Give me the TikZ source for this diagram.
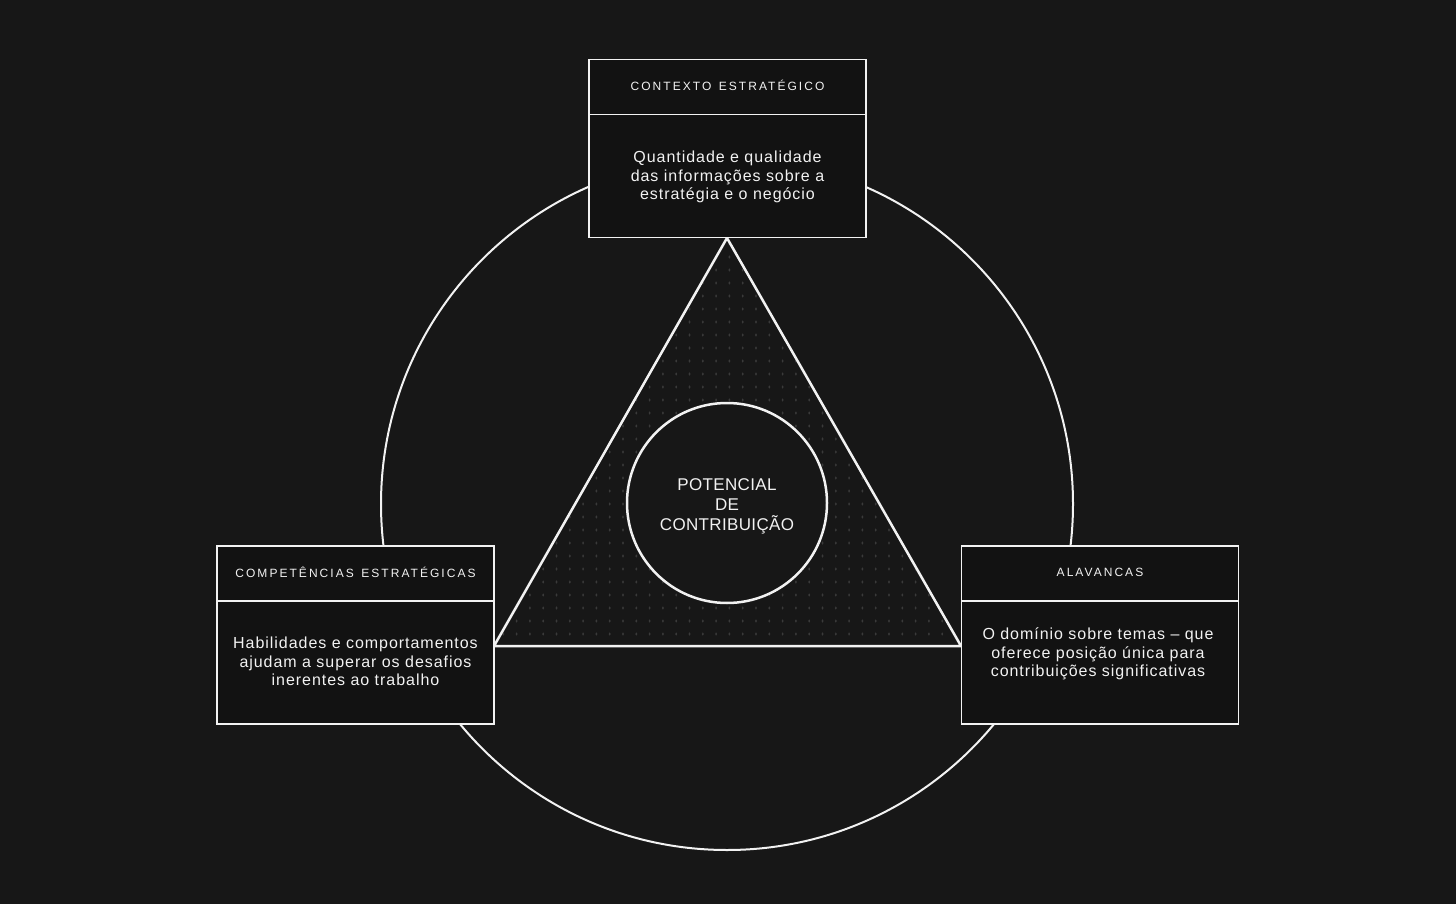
\documentclass[tikz,border=0pt]{standalone}
\usepackage{fontspec}
\setmainfont{Liberation Sans}
\newfontfamily\hdrfont[LetterSpace=17,WordSpace=1.4]{Liberation Sans}
\definecolor{bgc}{HTML}{171717}
\definecolor{boxc}{HTML}{121212}
\definecolor{linec}{HTML}{F2F2F2}
\definecolor{dotc}{HTML}{3A3A3A}
\begin{document}
\begin{tikzpicture}[x=1pt,y=-1pt,
  hdrbox/.style={draw=linec,fill=boxc,line width=1.5pt,minimum width=277pt,minimum height=55pt,inner sep=0pt},
  bodybox/.style={draw=linec,fill=boxc,line width=1.5pt,minimum width=277pt,minimum height=123pt,inner sep=0pt},
  hdrtxt/.style={text=linec,font=\hdrfont\fontsize{12}{14}\selectfont,inner sep=0pt},
  bodytxt/.style={text=linec,align=center,font=\fontsize{16}{18.5}\selectfont\addfontfeature{LetterSpace=6},inner sep=0pt},
  ctrtxt/.style={text=linec,align=center,font=\fontsize{17}{20}\selectfont\addfontfeature{LetterSpace=2},inner sep=0pt}]
\fill[bgc] (0,0) rectangle (1456,904);
\useasboundingbox (0,0) rectangle (1456,904);
% outer circle
\node[draw=linec,line width=2pt,circle,minimum size=692pt,inner sep=0pt] (outer) at (727,504) {};
% triangle
\coordinate (apex) at (727,238);
\coordinate (bl) at (494,646);
\coordinate (br) at (961,646);
\fill[bgc] (apex) -- (bl) -- (br) -- cycle;
\begin{scope}
\clip (apex) -- (bl) -- (br) -- cycle;
\foreach \i in {0,...,36} {
  \foreach \j in {0,...,31} {
    \fill[dotc] (490+\i*13.3, 244+\j*13) ellipse [x radius=1pt, y radius=1.7pt];
  }
}
\end{scope}
\draw[linec,line width=2.5pt,line join=miter] (apex) -- (bl) -- (br) -- cycle;
% inner circle
\node[draw=linec,fill=bgc,line width=2.5pt,circle,minimum size=200pt,inner sep=0pt] (core) at (727,503) {};
\node[ctrtxt] (coretxt) at (727,506) {POTENCIAL\\DE\\CONTRIBUIÇÃO};
% top box
\node[hdrbox] (cth) at (727.5,87) {};
\node[bodybox] (ctb) at (727.5,176) {};
\node[hdrtxt] (ctht) at (727.5,85) {CONTEXTO ESTRATÉGICO};
\node[bodytxt] (ctbt) at (727.5,177) {Quantidade e qualidade\\das informações sobre a\\estratégia e o negócio};
% left box
\node[hdrbox] (cmh) at (355.5,573.5) {};
\node[bodybox] (cmb) at (355.5,662.5) {};
\node[hdrtxt] (cmht) at (355.5,572) {COMPETÊNCIAS ESTRATÉGICAS};
\node[bodytxt] (cmbt) at (355.5,661.5) {Habilidades e comportamentos\\ajudam a superar os desafios\\inerentes ao trabalho};
% right box
\node[hdrbox] (alh) at (1100,573.5) {};
\node[bodybox] (alb) at (1100,662.5) {};
\node[hdrtxt] (alht) at (1100,572) {ALAVANCAS};
\node[bodytxt] (albt) at (1098,654) {O domínio sobre temas – que\\oferece posição única para\\contribuições significativas};
\end{tikzpicture}
\end{document}
